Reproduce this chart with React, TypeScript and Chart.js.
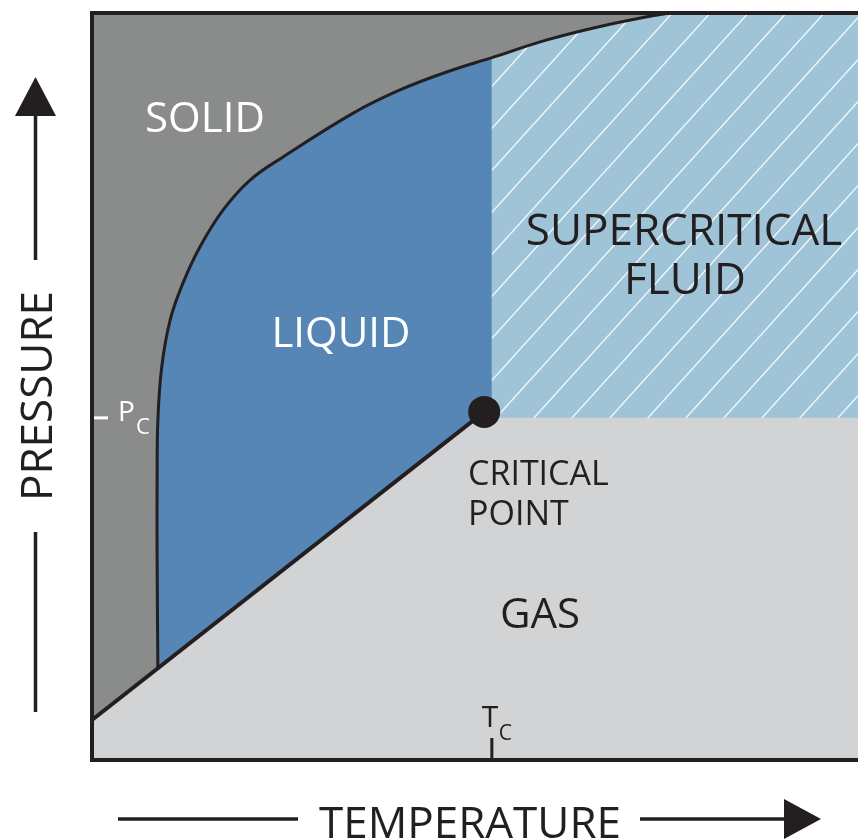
import React, { useEffect, useRef } from 'react';
import { Chart, registerables } from 'chart.js';

Chart.register(...registerables);

// ---- data (temperature / pressure in arbitrary 0..100 units) ----
const temperatureRange = [0, 100];
const pressureRange = [0, 100];
const criticalTemperature = 52.2;
const criticalPressure = 45.8;
const criticalPoint = [51.2, 46.6];
const sublimationStart = [0, 5.35];
const meltingT = [8.6, 8.5, 8.5, 8.6, 9.1, 10.2, 11.9, 14.1, 17.1, 20.6, 24.9, 34.1, 40.2, 46.3, 52.4, 59.4, 65.9, 72.5, 75.5];
const meltingP = [12.3, 26.8, 37.5, 45.5, 52.6, 58.9, 63.9, 68.7, 73.6, 77.6, 80.7, 86.6, 89.7, 92.1, 94.1, 96.4, 98.1, 99.5, 100];
const phaseLabels = ['SOLID', 'LIQUID', 'SUPERCRITICAL', 'FLUID', 'CRITICAL', 'POINT', 'GAS'];
const axisTitles = ['PRESSURE', 'TEMPERATURE'];
const tickLabels = ['P', 'T'];
const tickSubscript = 'C';

const COLORS = {
  solid: '#8a8c8c',
  liquid: '#5586b6',
  supercritical: '#9fc4d7',
  gas: '#d2d3d5',
  dark: '#231f20',
  white: '#ffffff',
};

const FONT = '"Open Sans", "Noto Sans", sans-serif';

export default function App() {
  const ref = useRef<HTMLCanvasElement>(null);

  useEffect(() => {
    const canvas = ref.current!;
    // hatch pattern for the supercritical region
    const tile = document.createElement('canvas');
    tile.width = 38;
    tile.height = 42;
    const g = tile.getContext('2d')!;
    g.fillStyle = COLORS.supercritical;
    g.fillRect(0, 0, 38, 42);
    g.strokeStyle = 'rgba(255,255,255,0.85)';
    g.lineWidth = 1.5;
    g.beginPath();
    g.moveTo(0, 42);
    g.lineTo(38, 0);
    g.moveTo(-3, 3.32);
    g.lineTo(3, -3.32);
    g.moveTo(35, 45.32);
    g.lineTo(41, 38.68);
    g.stroke();
    const pattern = canvas.getContext('2d')!.createPattern(tile, 'repeat')!;

    const [t0, t1] = temperatureRange;
    const [p0, p1] = pressureRange;
    const curve = meltingT.map((t, i) => ({ x: t, y: meltingP[i] }));
    const triple = curve[0];
    const top = curve[curve.length - 1];
    const subStart = { x: sublimationStart[0], y: sublimationStart[1] };
    const cp = { x: criticalPoint[0], y: criticalPoint[1] };
    const Tc = criticalTemperature;
    const Pc = criticalPressure;

    const base = { showLine: true, pointRadius: 0, borderWidth: 0, tension: 0 };

    const labelsPlugin = {
      id: 'phaseLabels',
      afterDraw(chart: any) {
        const { ctx } = chart;
        const xs = chart.scales.x;
        const ys = chart.scales.y;
        ctx.save();
        ctx.textBaseline = 'alphabetic';
        const text = (s: string, x: number, y: number, size: number, color: string, align: CanvasTextAlign = 'center') => {
          ctx.font = `${size}px ${FONT}`;
          ctx.fillStyle = color;
          ctx.textAlign = align;
          ctx.fillText(s, x, y);
        };
        // region labels
        text(phaseLabels[0], 205, 132, 42, COLORS.white);
        text(phaseLabels[1], 341, 347, 42, COLORS.white);
        text(phaseLabels[2], 684, 245, 44, COLORS.dark);
        text(phaseLabels[3], 685, 294, 44, COLORS.dark);
        text(phaseLabels[4], 468, 485, 34, COLORS.dark, 'left');
        text(phaseLabels[5], 468, 525, 34, COLORS.dark, 'left');
        text(phaseLabels[6], 540, 628, 42, COLORS.dark);

        // Pc tick
        const py = ys.getPixelForValue(Pc);
        const left = xs.getPixelForValue(t0);
        ctx.strokeStyle = COLORS.white;
        ctx.lineWidth = 3;
        ctx.beginPath();
        ctx.moveTo(left + 2, py);
        ctx.lineTo(left + 16, py);
        ctx.stroke();
        text(tickLabels[0], left + 26, py + 3, 28, COLORS.white, 'left');
        text(tickSubscript, left + 44, py + 16, 22, COLORS.white, 'left');

        // Tc tick
        const tx = xs.getPixelForValue(Tc);
        const bottom = ys.getPixelForValue(p0);
        ctx.strokeStyle = COLORS.dark;
        ctx.lineWidth = 3;
        ctx.beginPath();
        ctx.moveTo(tx, bottom);
        ctx.lineTo(tx, bottom - 22);
        ctx.stroke();
        text(tickLabels[1], tx - 10, bottom - 33, 30, COLORS.dark, 'left');
        text(tickSubscript, tx + 7, bottom - 20, 21, COLORS.dark, 'left');

        // axis titles with arrows
        ctx.strokeStyle = COLORS.dark;
        ctx.fillStyle = COLORS.dark;
        ctx.lineWidth = 3.5;
        // pressure
        ctx.beginPath();
        ctx.moveTo(35.5, 712);
        ctx.lineTo(35.5, 532);
        ctx.moveTo(35.5, 260);
        ctx.lineTo(35.5, 112);
        ctx.stroke();
        ctx.beginPath();
        ctx.moveTo(35.5, 77);
        ctx.lineTo(56, 116);
        ctx.lineTo(15, 116);
        ctx.closePath();
        ctx.fill();
        ctx.save();
        ctx.translate(52, 396);
        ctx.rotate(-Math.PI / 2);
        text(axisTitles[0], 0, 0, 44, COLORS.dark);
        ctx.restore();
        // temperature
        ctx.strokeStyle = COLORS.dark;
        ctx.fillStyle = COLORS.dark;
        ctx.lineWidth = 3.5;
        ctx.beginPath();
        ctx.moveTo(118, 819);
        ctx.lineTo(298, 819);
        ctx.moveTo(640, 819);
        ctx.lineTo(790, 819);
        ctx.stroke();
        ctx.beginPath();
        ctx.moveTo(821, 819);
        ctx.lineTo(784, 799);
        ctx.lineTo(784, 839);
        ctx.closePath();
        ctx.fill();
        text(axisTitles[1], 470, 838, 44, COLORS.dark);
        ctx.restore();
      },
    };

    const chart = new Chart(canvas, {
      type: 'scatter',
      data: {
        datasets: [
          {
            ...base,
            label: 'gas',
            data: [{ x: t0, y: p0 }, { x: t1, y: p0 }, { x: t1, y: p1 }, { x: t0, y: p1 }],
            fill: 'shape',
            backgroundColor: COLORS.gas,
            order: 10,
          },
          {
            ...base,
            label: 'liquid',
            data: [subStart, cp, { x: Tc, y: Pc }, { x: Tc, y: p1 }, { x: t0, y: p1 }],
            fill: 'shape',
            backgroundColor: COLORS.liquid,
            order: 9,
          },
          {
            ...base,
            label: 'supercritical',
            data: [{ x: Tc, y: Pc }, { x: t1, y: Pc }, { x: t1, y: p1 }, { x: Tc, y: p1 }],
            fill: 'shape',
            backgroundColor: pattern,
            order: 8,
          },
          {
            ...base,
            label: 'solid',
            data: [subStart, triple, ...curve, top, { x: t0, y: p1 }],
            tension: 0.4,
            fill: 'shape',
            backgroundColor: COLORS.solid,
            order: 7,
          },
          {
            ...base,
            label: 'sublimation',
            data: [subStart, cp],
            borderWidth: 4,
            borderColor: COLORS.dark,
            fill: false,
            order: 6,
          },
          {
            ...base,
            label: 'melting',
            data: curve,
            tension: 0.4,
            borderWidth: 3,
            borderColor: COLORS.dark,
            fill: false,
            order: 5,
          },
          {
            ...base,
            label: 'frame',
            data: [{ x: t1, y: p1 }, { x: t0, y: p1 }, { x: t0, y: p0 }, { x: t1, y: p0 }],
            borderWidth: 4,
            borderColor: COLORS.dark,
            fill: false,
            clip: false,
            borderJoinStyle: 'miter',
            order: 4,
          },
          {
            label: 'critical point',
            data: [cp],
            showLine: false,
            pointRadius: 16,
            pointBackgroundColor: COLORS.dark,
            pointBorderWidth: 0,
            order: 3,
          } as any,
        ],
      },
      options: {
        responsive: false,
        animation: false,
        devicePixelRatio: 1,
        layout: { autoPadding: false, padding: { left: 92, top: 13, right: 0, bottom: 79 } },
        scales: {
          x: { type: 'linear', min: t0, max: t1, display: false },
          y: { type: 'linear', min: p0, max: p1, display: false },
        },
        plugins: { legend: { display: false }, tooltip: { enabled: false } },
        events: [],
      } as any,
      plugins: [labelsPlugin],
    });
    return () => chart.destroy();
  }, []);

  return (
    <div style={{ position: 'absolute', left: 0, top: 0, width: 858, height: 839, background: '#fff' }}>
      <canvas ref={ref} width={858} height={839} style={{ display: 'block', width: 858, height: 839 }} />
    </div>
  );
}
